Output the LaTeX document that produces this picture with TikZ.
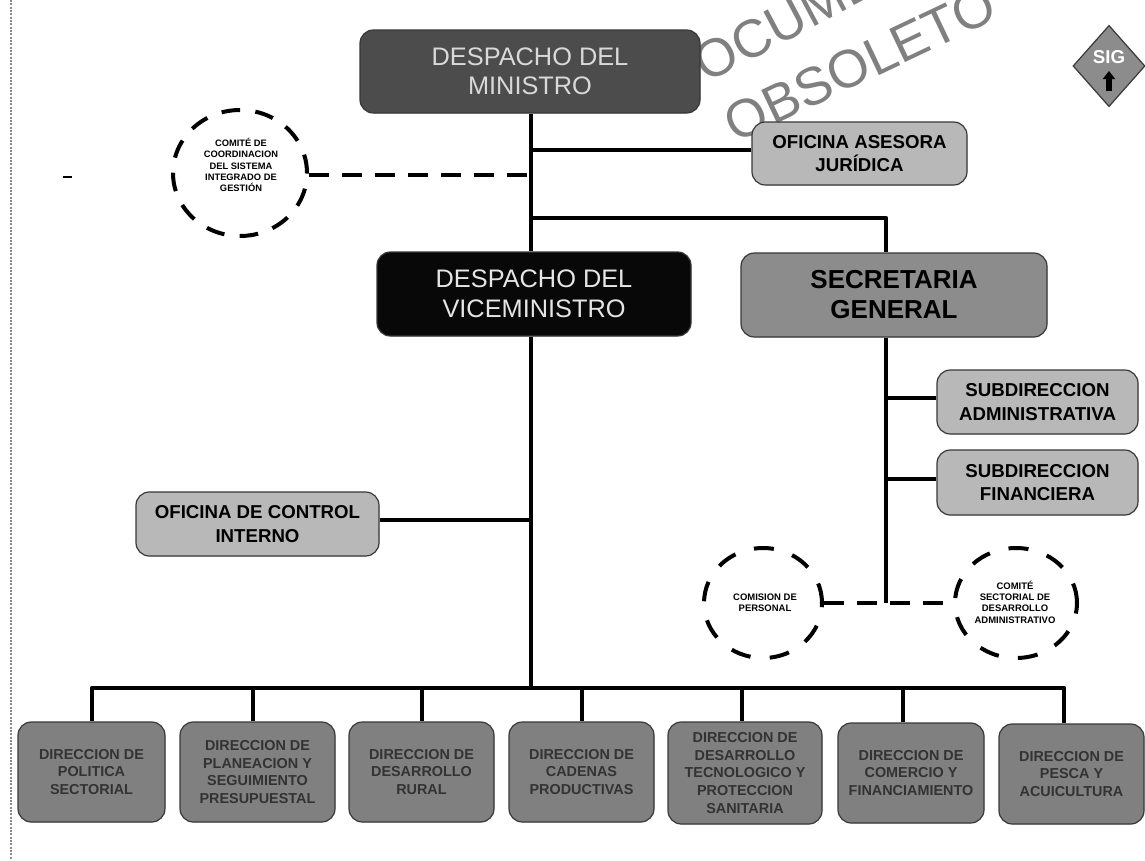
\documentclass[tikz,border=0pt]{standalone}
\usepackage{fontspec}
\setmainfont{Liberation Sans}
\usetikzlibrary{shapes.geometric,arrows.meta}
\definecolor{ministro}{gray}{0.30}
\definecolor{vice}{gray}{0.03}
\definecolor{secre}{gray}{0.55}
\definecolor{light}{gray}{0.72}
\definecolor{dir}{gray}{0.50}
\definecolor{edge}{gray}{0.22}
\newcommand{\bx}[7]{%
  \pgfmathsetmacro{\wpt}{(#4-#2)*0.75}%
  \pgfmathsetmacro{\hpt}{(#5-#3)*0.75}%
  \path[orgshadow,rounded corners=10pt] (#2,#3+1) rectangle (#4,#5);
  \node[orgbox,#6,minimum width=\wpt pt,minimum height=\hpt pt] (#1) at ({(#2+#4)/2},{(#3+#5)/2}) {#7};}
\tikzset{
  orgshadow/.style={fill=edge},
  orgbox/.style={rectangle,rounded corners=10pt,draw=edge,line width=0.9pt,inner sep=0pt,align=center,font=\bfseries,text=black},
  topbox/.style={fill=ministro,text=white!85!black,font=\fontsize{19}{21.8}\selectfont},
  vicebox/.style={fill=vice,text=white!90!black,font=\fontsize{19}{22.5}\selectfont},
  secbox/.style={fill=secre,font=\bfseries\fontsize{19.5}{22.5}\selectfont},
  lightbox/.style={fill=light,font=\bfseries\fontsize{14}{17.8}\selectfont},
  dirbox/.style={fill=dir,text=black!80,font=\bfseries\fontsize{10.8}{13.2}\selectfont},
  comite/.style={ellipse,draw=black,line width=3pt,dash pattern=on 15pt off 14.5pt,inner sep=0pt},
  comtext/.style={inner sep=0pt,align=center,font=\bfseries\fontsize{7.1}{8.5}\selectfont},
  conn/.style={draw=black,line width=3.2pt,line join=round},
  dashconn/.style={draw=black,line width=3.2pt,dash pattern=on 15pt off 9.75pt},
  stamp/.style={text=black!50,font=\fontsize{40}{42}\selectfont,inner sep=0pt},
}
\begin{document}
\begin{tikzpicture}[x=0.75pt,y=-0.75pt]
\useasboundingbox (0,0) rectangle (1145,860);
\fill[white] (0,0) rectangle (1145,860);
\coordinate (margintop) at (11,0);
\coordinate (marginbottom) at (11,860);
\draw[black!45,line width=1.6pt,dash pattern=on 1.5pt off 1pt] (margintop) -- (marginbottom);
\coordinate (tickl) at (63,177);
\coordinate (tickr) at (72,177);
\draw[black,line width=1pt] (tickl) -- (tickr);
\begin{scope}
\clip (0,0) rectangle (1145,860);
\node[stamp,rotate=28] (stampa) at (818,4) {DOCUMENTO};
\node[stamp,rotate=25.4] (stampb) at (860,64) {OBSOLETO};
\end{scope}
% junctions
\coordinate (jasesora) at (531,150);
\coordinate (jsig) at (531,175);
\coordinate (jsec) at (531,218);
\coordinate (jsectop) at (886,218);
\coordinate (joci) at (531,520);
\coordinate (jdir) at (531,688);
\coordinate (jadm) at (886,398);
\coordinate (jfin) at (886,479);
\coordinate (jcom) at (886,603);
% boxes
\bx{ministro}{360}{30}{700}{113}{topbox}{DESPACHO DEL\\MINISTRO}
\bx{asesora}{752}{122}{967}{185}{lightbox}{OFICINA ASESORA\\JURÍDICA}
\bx{vicem}{377}{252}{691}{336}{vicebox}{DESPACHO DEL\\VICEMINISTRO}
\bx{secretaria}{741}{253}{1047}{337}{secbox}{SECRETARIA\\GENERAL}
\bx{subadm}{937}{370}{1138}{434}{lightbox}{SUBDIRECCION\\ADMINISTRATIVA}
\bx{subfin}{937}{450}{1138}{515}{lightbox}{SUBDIRECCION\\FINANCIERA}
\bx{oci}{136}{492}{379}{556}{lightbox}{OFICINA DE CONTROL\\INTERNO}
\bx{d1}{18}{722}{165}{822}{dirbox}{DIRECCION DE\\POLITICA\\SECTORIAL}
\bx{d2}{180}{722}{335}{822}{dirbox}{DIRECCION DE\\PLANEACION Y\\SEGUIMIENTO\\PRESUPUESTAL}
\bx{d3}{349}{722}{494}{822}{dirbox}{DIRECCION DE\\DESARROLLO\\RURAL}
\bx{d4}{509}{722}{654}{822}{dirbox}{DIRECCION DE\\CADENAS\\PRODUCTIVAS}
\bx{d5}{668}{722}{822}{824}{dirbox}{DIRECCION DE\\DESARROLLO\\TECNOLOGICO Y\\PROTECCION\\SANITARIA}
\bx{d6}{838}{723}{984}{823}{dirbox}{DIRECCION DE\\COMERCIO Y\\FINANCIAMIENTO}
\bx{d7}{999}{724}{1144}{824}{dirbox}{DIRECCION DE\\PESCA Y\\ACUICULTURA}
% committees
\node[comite,minimum width=100.5pt,minimum height=94.5pt,dash pattern=on 14pt off 11.5pt] (c1) at (240,173) {};
\node[comtext,font=\bfseries\fontsize{7}{8.4}\selectfont] (c1t) at (241,165) {COMITÉ DE\\COORDINACION\\DEL SISTEMA\\INTEGRADO DE\\GESTIÓN};
\node[comite,minimum width=88.5pt,minimum height=82.5pt] (c2) at (763,603) {};
\node[comtext] (c2t) at (765,603) {COMISION DE\\PERSONAL};
\node[comite,minimum width=91.5pt,minimum height=82.5pt] (c3) at (1016,603) {};
\node[comtext] (c3t) at (1015,602) {COMITÉ\\SECTORIAL DE\\DESARROLLO\\ADMINISTRATIVO};
% SIG
\node[diamond,draw=edge,fill=secre,line width=0.9pt,minimum width=54pt,minimum height=61pt,inner sep=0pt] (sig) at (1109,66) {};
\node[inner sep=0pt,text=white,font=\bfseries\fontsize{14}{15}\selectfont] (sigt) at (1109,57) {SIG};
\coordinate (sigfrom) at (1109,91);
\coordinate (sigto) at (1109,71);
\draw[-{Triangle[width=9pt,length=6pt]},black,line width=4pt] (sigfrom) -- (sigto);
% connectors
\draw[conn] (ministro.south -| jasesora) -- (vicem.north -| jasesora);
\draw[conn] (vicem.south -| jasesora) -- (jdir);
\draw[conn] (jasesora) -- (jasesora -| asesora.west);
\draw[conn] (jsec) -- (jsectop) -- (secretaria.north -| jsectop);
\draw[conn] (secretaria.south -| jsectop) -- (jcom);
\draw[conn] (jadm) -- (jadm -| subadm.west);
\draw[conn] (jfin) -- (jfin -| subfin.west);
\draw[conn] (joci -| oci.east) -- (joci);
\draw[dashconn] (jsig -| c1.east) -- (jsig);
\draw[dashconn,shorten >=7.5pt] (jcom -| c2.east) -- (jcom -| c3.west);
\coordinate (jdl) at (92,688);
\coordinate (jdr) at (1064,688);
\draw[conn] (d1.north -| jdl) -- (jdl) -- (jdr) -- (d7.north -| jdr);
\foreach \n/\x in {d2/253,d3/422,d4/582,d5/742,d6/903}{
  \coordinate (t\n) at (\x,688);
  \draw[conn] (t\n) -- (\n.north -| t\n);
}
\end{tikzpicture}
\end{document}
